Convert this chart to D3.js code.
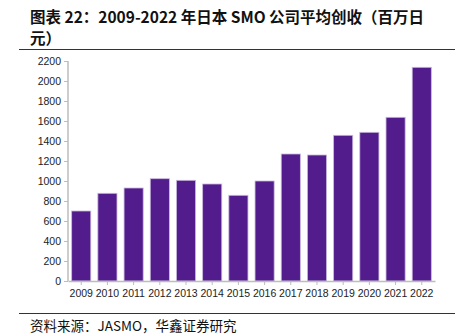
<!DOCTYPE html>
<html>
<head>
<meta charset="utf-8">
<script src="https://cdn.jsdelivr.net/npm/d3@7"></script>
<style>
  body { margin: 0; background: #fff; }
  svg { display: block; }
</style>
</head>
<body>
<div id="chart"></div>
<script>
const years = ["2009","2010","2011","2012","2013","2014","2015","2016","2017","2018","2019","2020","2021","2022"];
const revenue = [700, 877, 930, 1023, 1007, 970, 857, 1000, 1270, 1260, 1457, 1487, 1637, 2137];
const yTicks = [0, 200, 400, 600, 800, 1000, 1200, 1400, 1600, 1800, 2000, 2200];

const width = 455, height = 336;
const margin = { top: 61, right: 20, bottom: 55, left: 68 };

const svg = d3.select("#chart")
  .append("svg")
  .attr("width", width)
  .attr("height", height);

// title + source lines
const cjk = "'Noto Sans CJK SC', sans-serif";
svg.append("text").attr("x", 30).attr("y", 23)
  .text("图表 22：2009-2022 年日本 SMO 公司平均创收（百万日")
  .style("font-family", cjk).style("font-size", "15.5px").style("font-weight", "bold").attr("fill", "#111");
svg.append("text").attr("x", 30).attr("y", 44)
  .text("元）")
  .style("font-family", cjk).style("font-size", "15.5px").style("font-weight", "bold").attr("fill", "#111");
svg.append("line").attr("x1", 19).attr("x2", width).attr("y1", 49.5).attr("y2", 49.5)
  .attr("stroke", "#333").attr("stroke-width", 1);
svg.append("line").attr("x1", 19).attr("x2", width).attr("y1", 313.5).attr("y2", 313.5)
  .attr("stroke", "#333").attr("stroke-width", 1);
svg.append("text").attr("x", 30).attr("y", 331)
  .text("资料来源：JASMO，华鑫证券研究")
  .style("font-family", cjk).style("font-size", "13.5px").attr("fill", "#111");

const x = d3.scaleBand(years, [margin.left, width - margin.right]).paddingInner(0.27).paddingOuter(0.14);
const y = d3.scaleLinear([0, 2200], [281, margin.top]);

svg.append("g")
  .selectAll("rect")
  .data(revenue)
  .join("rect")
  .attr("x", (d, i) => x(years[i]))
  .attr("y", d => y(d))
  .attr("width", x.bandwidth())
  .attr("height", d => y(0) - y(d))
  .attr("fill", "#531c8d")
  .attr("stroke", "#c9b9dc")
  .attr("stroke-width", 0.8);

const yAxis = svg.append("g")
  .attr("transform", `translate(${margin.left},0)`)
  .call(d3.axisLeft(y).tickValues(yTicks).tickFormat(d3.format("d")).tickSize(4).tickPadding(3));

const xAxis = svg.append("g")
  .attr("transform", `translate(0,${y(0)})`)
  .call(d3.axisBottom(x).tickSize(4).tickPadding(5).tickSizeOuter(0));

[yAxis, xAxis].forEach(g => {
  g.select(".domain").attr("stroke", "#bdbdbd").attr("stroke-width", 1.5);
  g.selectAll(".tick line").attr("stroke", "#bdbdbd");
  g.selectAll("text").attr("fill", "#222")
    .style("font-family", "'Liberation Sans', Arial, sans-serif").style("font-size", "10.5px");
});
yAxis.select(".domain").attr("d", `M-0,${margin.top}V${y(0)}`);
</script>
</body>
</html>
